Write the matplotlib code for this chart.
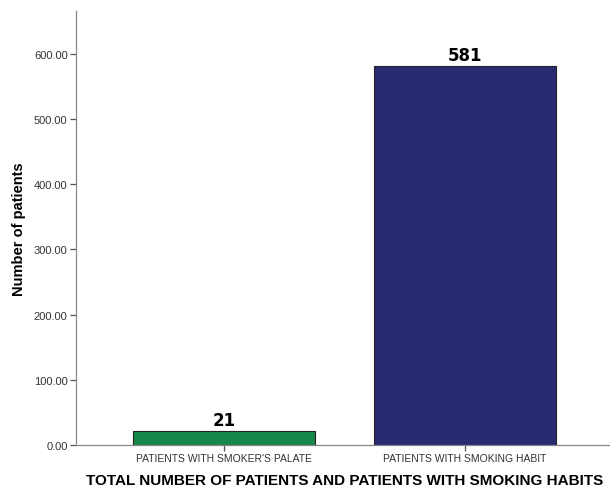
import matplotlib.pyplot as plt

categories = ["PATIENTS WITH SMOKER'S PALATE", "PATIENTS WITH SMOKING HABIT"]
counts = [21, 581]
bar_colors = ["#17884a", "#2a2a72"]
y_ticks = [0, 100, 200, 300, 400, 500, 600]

plt.rcParams["font.family"] = ["Liberation Sans", "DejaVu Sans"]

fig = plt.figure(figsize=(6.1, 4.89), dpi=100)
ax = fig.add_axes([0.1246, 0.088, 0.88, 0.8875])

x = range(len(categories))
bars = ax.bar(x, counts, width=0.755, color=bar_colors, edgecolor="#222222", linewidth=0.8)
ax.bar_label(bars, labels=[str(c) for c in counts], padding=2,
             fontsize=12, fontweight="heavy", family="DejaVu Sans")

ax.set_xlim(-0.614, 1.614)
ax.set_ylim(0, 666)
ax.set_xticks(list(x))
ax.set_xticklabels(categories, fontsize=7.5, color="#333333")
ax.set_yticks(y_ticks)
ax.set_yticklabels([f"{v:.2f}" for v in y_ticks], fontsize=8, color="#333333")

for s in ["top", "right"]:
    ax.spines[s].set_visible(False)
for s in ["left", "bottom"]:
    ax.spines[s].set_color("#888888")
    ax.spines[s].set_linewidth(0.9)
ax.tick_params(axis="both", length=4, width=0.9, color="#555555", pad=2)

ax.set_ylabel("Number of patients", fontsize=10.5, fontweight="bold", labelpad=6)
ax.set_xlabel("TOTAL NUMBER OF PATIENTS AND PATIENTS WITH SMOKING HABITS",
              fontsize=11, fontweight="bold", labelpad=7)

fig.savefig("out.png", dpi=100)
